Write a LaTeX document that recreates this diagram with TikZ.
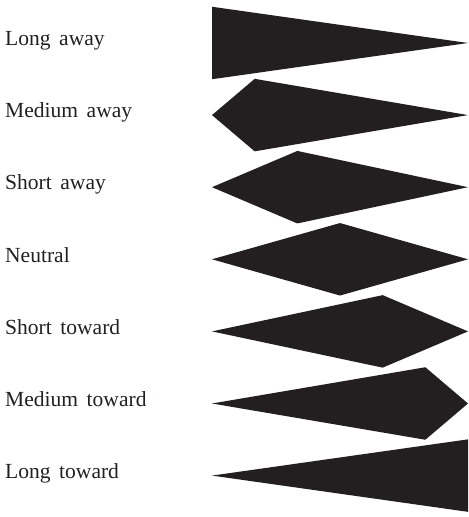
\documentclass[tikz,border=0pt]{standalone}
\usepackage{fontspec}
\setmainfont{Liberation Serif}[WordSpace=1.6]
\usepackage{tikz}
\usepackage{xcolor}
\definecolor{shapeblack}{HTML}{231F20}

\begin{document}
\begin{tikzpicture}[lbl/.style={anchor=base west,inner sep=0pt,text=shapeblack,font=\fontsize{24.5}{28}\selectfont}]
\useasboundingbox (0,0) rectangle (18.72,20.68);
% arrow-like shapes, widest point moves from left to right
\fill[shapeblack] (8.48,20.41) -- (18.72,18.96) -- (8.48,17.51) -- cycle;
\fill[shapeblack] (8.48,16.076) -- (10.187,17.526) -- (18.72,16.076) -- (10.187,14.626) -- cycle;
\fill[shapeblack] (8.48,13.192) -- (11.893,14.642) -- (18.72,13.192) -- (11.893,11.742) -- cycle;
\fill[shapeblack] (8.48,10.308) -- (13.6,11.758) -- (18.72,10.308) -- (13.6,8.858) -- cycle;
\fill[shapeblack] (8.48,7.424) -- (15.307,8.874) -- (18.72,7.424) -- (15.307,5.974) -- cycle;
\fill[shapeblack] (8.48,4.54) -- (17.013,5.99) -- (18.72,4.54) -- (17.013,3.09) -- cycle;
\fill[shapeblack] (8.48,1.656) -- (18.72,3.106) -- (18.72,0.206) -- cycle;
% labels
\node[lbl] (longaway) at (0.2,18.85) {Long away};
\node[lbl] (medaway) at (0.2,15.966) {Medium away};
\node[lbl] (shortaway) at (0.2,13.082) {Short away};
\node[lbl] (neutral) at (0.2,10.198) {Neutral};
\node[lbl] (shorttoward) at (0.2,7.314) {Short toward};
\node[lbl] (medtoward) at (0.2,4.43) {Medium toward};
\node[lbl] (longtoward) at (0.2,1.546) {Long toward};
\end{tikzpicture}
\end{document}
